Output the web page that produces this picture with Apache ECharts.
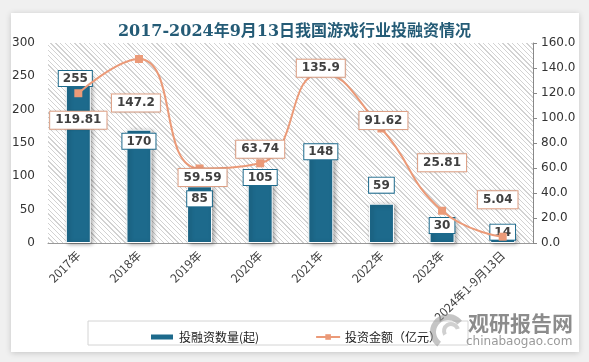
<!DOCTYPE html>
<html>
<head>
<meta charset="utf-8">
<script src="https://cdn.jsdelivr.net/npm/echarts@6/dist/echarts.min.js"></script>
<style>
html,body{margin:0;padding:0;background:#f0f0f0;}
#wrap{position:relative;width:589px;height:362px;overflow:hidden;}
#card{position:absolute;left:11px;top:13px;width:568px;height:339px;background:#fff;box-shadow:0 1px 6px rgba(0,0,0,0.18);}
#hatch{position:absolute;left:48px;top:43px;width:485px;height:200px;
  background:repeating-linear-gradient(45deg,#d2d2d2 0px,#d2d2d2 0.9px,#ffffff 0.9px,#ffffff 3.4px);}
#chart{position:absolute;left:0;top:0;width:589px;height:362px;}
</style>
</head>
<body>
<div id="wrap">
<div id="card"></div>
<div id="hatch"></div>
<div id="chart"></div>
</div>
<script>
// ---- data ----
var categories = ['2017年','2018年','2019年','2020年','2021年','2022年','2023年','2024年1-9月13日'];
var dealCounts = [255, 170, 85, 105, 148, 59, 30, 14];
var investAmounts = [119.81, 147.2, 59.59, 63.74, 135.9, 91.62, 25.81, 5.04];
var leftTicks = [0, 50, 100, 150, 200, 250, 300];
var rightTicks = [0, 20, 40, 60, 80, 100, 120, 140, 160];
var seriesNames = ['投融资数量(起)', '投资金额（亿元）'];
var titleText = '2017-2024年9月13日我国游戏行业投融资情况';

// ---- styling (label placement tweaks) ----
var barLabelOffsets = [[-3,-2],[0,4],[0,5],[0,-3],[0,0],[0,-26],[0,-5],[0,-9]];
var lineLabelOffsets = [[0,27],[-3,44],[3,9],[0,-14],[0,-5],[2,-8],[0,-48],[-5,-37]];

var barColor = '#1d6a8c';
var lineColor = '#eb9a78';

var barData = dealCounts.map(function(v,i){
  return {value: v, label: {offset: barLabelOffsets[i]}};
});
var lineData = investAmounts.map(function(v,i){
  return {value: v, label: {offset: lineLabelOffsets[i]}};
});

var GL = 48, GR = 56, GT = 43, GB = 119;

var chart = echarts.init(document.getElementById('chart'), null, {renderer:'canvas'});
chart.setOption({
  animation: false,
  backgroundColor: 'transparent',
  graphic: [
    {type:'rect', shape:{x:88,y:321,width:380,height:24}, style:{fill:'none', stroke:'#d4d4d4', lineWidth:1}, z:1},
    {type:'text', left:468, top:313, style:{text:'观研报告网', fill:'#8c8c8c', font:'bold 21px "Noto Sans CJK SC"'}, z:20},
    {type:'text', left:466, top:336, style:{text:'chinabaogao.com', fill:'#9a9a9a', font:'12px "DejaVu Sans"'}, z:20},
    {type:'arc', shape:{cx:448, cy:332, r:15, startAngle:2.2, endAngle:5.6}, style:{stroke:'rgba(150,150,150,0.55)', lineWidth:6, fill:'none'}, z:19},
    {type:'arc', shape:{cx:451, cy:331, r:7, startAngle:2.6, endAngle:6.0}, style:{stroke:'rgba(150,150,150,0.45)', lineWidth:4, fill:'none'}, z:19}
  ],
  title: {
    text: titleText,
    left: 'center',
    top: 19,
    textStyle: {fontFamily:'"DejaVu Serif","Noto Sans CJK SC"', fontWeight:'bold', fontSize:16, color:'#245b76'}
  },
  legend: {
    left: 144,
    top: 326,
    itemGap: 56,
    itemWidth: 24,
    itemHeight: 7,
    textStyle: {fontFamily:'"Noto Sans CJK SC"', fontSize:12, color:'#222'},
    data: [
      {name: seriesNames[0], icon:'rect'},
      {name: seriesNames[1]}
    ]
  },
  grid: {
    left: GL, right: GR, top: GT, bottom: GB
  },
  xAxis: {
    type: 'category',
    data: categories,
    axisLine: {lineStyle:{color:'#999'}},
    axisTick: {show:false},
    axisLabel: {rotate:45, color:'#404040', fontSize:12, margin:10, fontFamily:'"Noto Sans CJK SC"'}
  },
  yAxis: [
    {
      type:'value', min:0, max:300, interval:50,
      axisLine:{show:false}, axisTick:{show:false}, splitLine:{show:false},
      axisLabel:{color:'#333', fontSize:12, margin:13, fontFamily:'"DejaVu Sans"'}
    },
    {
      type:'value', min:0, max:160, interval:20,
      axisLine:{show:true, lineStyle:{color:'#888'}},
      axisTick:{show:true, length:4, lineStyle:{color:'#888'}},
      splitLine:{show:false},
      axisLabel:{color:'#333', fontSize:12, margin:8, fontFamily:'"DejaVu Sans"', formatter:function(v){return v.toFixed(1);}}
    }
  ],
  series: [
    {
      name: seriesNames[0],
      type: 'bar',
      yAxisIndex: 0,
      barWidth: 25,
      data: barData,
      itemStyle: {color: barColor, borderColor:'#ffffff', borderWidth:1, shadowBlur:4, shadowOffsetX:2, shadowOffsetY:1, shadowColor:'rgba(0,0,0,0.35)'},
      label: {
        show: true, position: 'insideTop', distance: 0,
        backgroundColor:'#ffffff', borderColor: barColor, borderWidth:1,
        padding:[2,4,1,4], color:'#404040', fontWeight:'bold', fontSize:12,
        fontFamily:'"DejaVu Sans"'
      },
      z: 2
    },
    {
      name: seriesNames[1],
      type: 'line',
      yAxisIndex: 1,
      smooth: true,
      symbol: 'rect',
      symbolSize: 8,
      data: lineData,
      lineStyle: {color: lineColor, width: 2},
      itemStyle: {color: lineColor},
      label: {
        show: true, position: 'inside',
        backgroundColor:'#ffffff', borderColor:'#e8a88c', borderWidth:1,
        padding:[3,5,2,5], color:'#404040', fontWeight:'bold', fontSize:12,
        fontFamily:'"DejaVu Sans"',
        shadowBlur:2, shadowColor:'rgba(0,0,0,0.15)'
      },
      z: 3
    }
  ]
});
</script>
</body>
</html>
